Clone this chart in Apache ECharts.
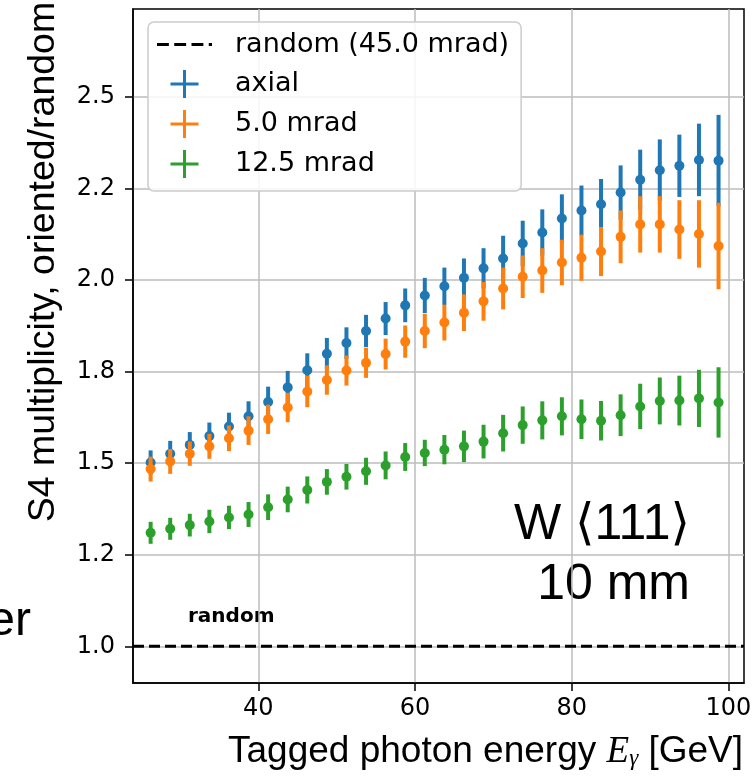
<head>
  <script src="https://cdn.jsdelivr.net/npm/echarts@6.0.0/dist/echarts.min.js"></script>
  <style>
    html, body { margin: 0; padding: 0; background: #fff; }
    #chart-container { width: 756px; height: 781px; }
  </style>
</head>
<body>
  <div id="chart-container"></div>

  <script>

    // Data
    const energy = [26.25, 28.75, 31.25, 33.75, 36.25, 38.75, 41.25, 43.75, 46.25, 48.75,
                    51.25, 53.75, 56.25, 58.75, 61.25, 63.75, 66.25, 68.75, 71.25, 73.75,
                    76.25, 78.75, 81.25, 83.75, 86.25, 88.75, 91.25, 93.75, 96.25, 98.75];

    const axialY = [1.502, 1.526, 1.550, 1.574, 1.600, 1.628, 1.667, 1.707, 1.754, 1.799,
                    1.828, 1.861, 1.895, 1.931, 1.958, 1.983, 2.006, 2.032, 2.059, 2.100,
                    2.130, 2.168, 2.190, 2.207, 2.239, 2.274, 2.300, 2.312, 2.328, 2.326];
    const axialErr = [0.033, 0.035, 0.035, 0.037, 0.038, 0.041, 0.042, 0.045, 0.046, 0.043,
                      0.043, 0.044, 0.045, 0.046, 0.048, 0.051, 0.053, 0.055, 0.062, 0.062,
                      0.063, 0.066, 0.068, 0.069, 0.074, 0.082, 0.084, 0.085, 0.099, 0.125];

    const mrad5Y = [1.484, 1.505, 1.526, 1.546, 1.568, 1.589, 1.620, 1.652, 1.696, 1.727,
                    1.753, 1.774, 1.798, 1.832, 1.861, 1.884, 1.911, 1.942, 1.977, 2.009,
                    2.026, 2.048, 2.061, 2.078, 2.118, 2.152, 2.152, 2.138, 2.126, 2.093];
    const mrad5Err = [0.034, 0.034, 0.033, 0.034, 0.035, 0.039, 0.040, 0.040, 0.043, 0.040,
                      0.041, 0.041, 0.042, 0.044, 0.047, 0.049, 0.050, 0.053, 0.057, 0.058,
                      0.061, 0.062, 0.063, 0.067, 0.072, 0.077, 0.077, 0.080, 0.092, 0.118];

    const mrad12Y = [1.310, 1.321, 1.331, 1.341, 1.352, 1.360, 1.380, 1.401, 1.427, 1.449,
                     1.463, 1.478, 1.494, 1.517, 1.528, 1.537, 1.546, 1.559, 1.582, 1.604,
                     1.617, 1.628, 1.620, 1.616, 1.631, 1.655, 1.670, 1.671, 1.677, 1.666];
    const mrad12Err = [0.030, 0.030, 0.031, 0.032, 0.032, 0.034, 0.035, 0.035, 0.037, 0.035,
                       0.035, 0.037, 0.038, 0.038, 0.036, 0.040, 0.043, 0.046, 0.050, 0.051,
                       0.052, 0.052, 0.054, 0.054, 0.057, 0.062, 0.064, 0.068, 0.078, 0.096];

    const randomLevel = 1.0;

    // Axes
    const xMin = 24, xMax = 102;
    const yMin = 0.9, yMax = 2.74;
    const xTicks = [40, 60, 80, 100];
    const yTicks = [1.0, 1.25, 1.5, 1.75, 2.0, 2.25, 2.5];
    const yTickLabels = ['1.0', '1.2', '1.5', '1.8', '2.0', '2.2', '2.5'];

    // Names
    const seriesNames = ['axial', '5.0 mrad', '12.5 mrad'];
    const randomName = 'random (45.0 mrad)';

    // Constants
    const colors = ['#1f77b4', '#ff7f0e', '#2ca02c'];
    const crossIcon = 'path://M0,12.5H28V15.5H0Z M12.5,0H15.5V28H12.5Z';
    const dashIcon = 'path://M0,0H11V3H0Z M16,0H27V3H16Z M32,0H43V3H32Z M48,0H51V3H48Z';
    const tickFont = 'DejaVu Sans';
    const textFont = 'Liberation Sans';

    // Graph
    var chartDom = document.getElementById('chart-container');
    var myChart = echarts.init(chartDom, null, { renderer: 'canvas' });

    function rows(ys, errs) {
      /**
       * Builds [x, y, err] rows for one series.
       */
      return energy.map((x, i) => [x, ys[i], errs[i]]);
    }

    function errorBars(name, ys, errs, color, z) {
      /**
       * Vertical error bars drawn through the axes.
       */
      return {
        name: name,
        type: 'custom',
        z: z,
        itemStyle: { color: color },
        data: rows(ys, errs),
        renderItem: function (params, api) {
          let x = api.value(0), y = api.value(1), e = api.value(2);
          let top = api.coord([x, y + e]);
          let bot = api.coord([x, y - e]);
          return {
            type: 'line',
            shape: { x1: top[0], y1: top[1], x2: bot[0], y2: bot[1] },
            style: { stroke: color, lineWidth: 4 }
          };
        }
      };
    }

    function dots(name, ys, errs, color, z) {
      /**
       * Central markers.
       */
      return {
        name: name,
        type: 'scatter',
        z: z,
        symbol: 'circle',
        symbolSize: 10,
        itemStyle: { color: color, opacity: 1 },
        data: rows(ys, errs)
      };
    }

    var allData = [[axialY, axialErr], [mrad5Y, mrad5Err], [mrad12Y, mrad12Err]];
    var series = [
      {
        name: randomName,
        type: 'line',
        z: 1,
        symbol: 'none',
        lineStyle: { color: '#000', width: 3, type: [11, 5] },
        itemStyle: { color: '#000' },
        data: [[xMin, randomLevel], [xMax, randomLevel]]
      }
    ];
    seriesNames.forEach((name, i) => {
      series.push(errorBars(name, allData[i][0], allData[i][1], colors[i], 2 + 2 * i));
      series.push(dots(name, allData[i][0], allData[i][1], colors[i], 3 + 2 * i));
    });

    option = {
      animation: false,
      backgroundColor: '#fff',
      grid: {
        left: 133, right: 12, top: 9, bottom: 98,
        show: true, borderColor: '#000', borderWidth: 1.5,
        outerBoundsMode: 'none'
      },
      legend: {
        orient: 'vertical',
        left: 148, top: 22,
        padding: [9, 12, 13, 9],
        itemWidth: 55, itemHeight: 28, itemGap: 12,
        symbolKeepAspect: true,
        selectedMode: false,
        backgroundColor: 'rgba(255,255,255,0.85)',
        borderColor: '#cccccc', borderWidth: 1.5, borderRadius: 6,
        textStyle: { color: '#000', fontFamily: tickFont, fontSize: 27, padding: [0, 0, 0, 18] },
        data: [
          { name: randomName, icon: dashIcon },
          { name: seriesNames[0], icon: crossIcon },
          { name: seriesNames[1], icon: crossIcon },
          { name: seriesNames[2], icon: crossIcon }
        ]
      },
      xAxis: {
        type: 'value',
        min: xMin, max: xMax,
        axisLine: { show: true, onZero: false, lineStyle: { color: '#000', width: 1.5 } },
        axisTick: { show: true, inside: false, length: 8, customValues: xTicks,
                    lineStyle: { color: '#000', width: 1.5 } },
        axisLabel: { customValues: xTicks, margin: 14, color: '#000',
                     fontFamily: tickFont, fontSize: 24 },
        splitLine: { show: true, lineStyle: { color: '#bdbdbd', width: 1.5 } }
      },
      yAxis: {
        type: 'value',
        min: yMin, max: yMax,
        axisLine: { show: true, onZero: false, lineStyle: { color: '#000', width: 1.5 } },
        axisTick: { show: true, inside: false, length: 8, customValues: yTicks,
                    lineStyle: { color: '#000', width: 1.5 } },
        axisLabel: {
          customValues: yTicks, margin: 18, color: '#000',
          fontFamily: tickFont, fontSize: 24,
          formatter: v => yTickLabels[yTicks.indexOf(v)]
        },
        splitLine: { show: true, lineStyle: { color: '#bdbdbd', width: 1.5 } }
      },
      graphic: [
        // y axis title
        {
          type: 'text', x: 44, y: 262, rotation: Math.PI / 2,
          style: { text: 'S4 multiplicity, oriented/random', fontFamily: textFont,
                   fontSize: 37.5, fill: '#000', align: 'center', verticalAlign: 'middle' }
        },
        // x axis title
        {
          type: 'text', x: 228, y: 752,
          style: {
            text: 'Tagged photon energy {e|E}{g|γ} [GeV]',
            fontFamily: textFont, fontSize: 37, fill: '#000',
            align: 'left', verticalAlign: 'middle',
            rich: {
              e: { fontFamily: 'Liberation Serif', fontStyle: 'italic', fontSize: 37 },
              g: { fontFamily: 'Liberation Serif', fontStyle: 'italic', fontSize: 23,
                   verticalAlign: 'bottom', lineHeight: 12 }
            }
          }
        },
        // crystal
        {
          type: 'text', x: 690, y: 525,
          style: { text: 'W ⟨111⟩', fontFamily: "'Liberation Sans', 'DejaVu Sans'", fontSize: 50,
                   fill: '#000', align: 'right', verticalAlign: 'middle' }
        },
        {
          type: 'text', x: 690, y: 585,
          style: { text: '10 mm', fontFamily: textFont, fontSize: 50,
                   fill: '#000', align: 'right', verticalAlign: 'middle' }
        },
        // random label
        {
          type: 'text', x: 188, y: 617,
          style: { text: 'random', fontFamily: tickFont, fontWeight: 'bold', fontSize: 20,
                   fill: '#000', align: 'left', verticalAlign: 'middle' }
        },
        // cut-off text from the neighbouring panel
        {
          type: 'text', x: 31, y: 622,
          style: { text: 'er', fontFamily: textFont, fontSize: 48,
                   fill: '#000', align: 'right', verticalAlign: 'middle' }
        }
      ],
      series: series
    };

    option && myChart.setOption(option);

    // Enable resizing.
    window.addEventListener('resize', myChart.resize);

  </script>
</body>
